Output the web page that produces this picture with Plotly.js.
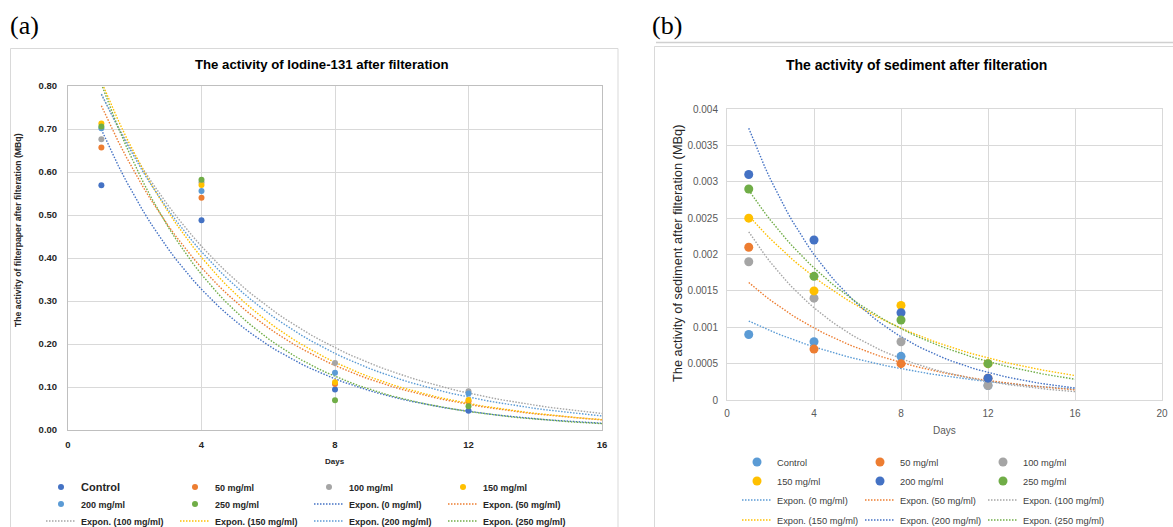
<!DOCTYPE html>
<html><head><meta charset="utf-8">
<script src="https://cdn.plot.ly/plotly-3.0.1.min.js"></script>
<style>html,body{margin:0;padding:0;background:#fff}#chart{width:1173px;height:527px}</style>
</head><body><div id="chart"></div>
<script>
// ---------- data ----------
const days = [1, 4, 8, 12];
const seriesNames = ['Control', '50 mg/ml', '100 mg/ml', '150 mg/ml', '200 mg/ml', '250 mg/ml'];
const trendNames = ['Expon. (0 mg/ml)', 'Expon. (50 mg/ml)', 'Expon. (100 mg/ml)', 'Expon. (150 mg/ml)', 'Expon. (200 mg/ml)', 'Expon. (250 mg/ml)'];
const trendDays = [1, 16];

// (a) filter paper activity (MBq)
const aControl = [0.569, 0.488, 0.094, 0.045];
const a50 = [0.657, 0.540, 0.107, 0.067];
const a100 = [0.676, 0.576, 0.156, 0.090];
const a150 = [0.713, 0.570, 0.111, 0.070];
const a200 = [0.702, 0.556, 0.133, 0.085];
const a250 = [0.706, 0.582, 0.069, 0.055];

// (b) sediment activity (MBq)
const bControl = [0.0009, 0.0008, 0.0006, 0.0002];
const b50 = [0.0021, 0.0007, 0.0005, 0.0003];
const b100 = [0.0019, 0.0014, 0.0008, 0.0002];
const b150 = [0.0025, 0.0015, 0.0013, 0.0005];
const b200 = [0.0031, 0.0022, 0.0012, 0.0003];
const b250 = [0.0029, 0.0017, 0.0011, 0.0005];

const aColors = ['#4472C4', '#ED7D31', '#A5A5A5', '#FFC000', '#5B9BD5', '#70AD47'];
const bColors = ['#5B9BD5', '#ED7D31', '#A5A5A5', '#FFC000', '#4472C4', '#70AD47'];

// ---------- helpers ----------
const W = 1173, H = 527;
const px = v => v / W;
const py = v => 1 - v / H;

// Excel-style exponential trendline: least squares on ln(y)
function expFit(xs, ys) {
  const n = xs.length;
  const ly = ys.map(Math.log);
  const mx = xs.reduce((s, v) => s + v, 0) / n;
  const my = ly.reduce((s, v) => s + v, 0) / n;
  let sxy = 0, sxx = 0;
  for (let i = 0; i < n; i++) { sxy += (xs[i] - mx) * (ly[i] - my); sxx += (xs[i] - mx) * (xs[i] - mx); }
  const b = sxy / sxx;
  return { a: my - b * mx, b: b };
}
function trendCurve(ys) {
  const f = expFit(days, ys);
  const xs = [];
  for (let x = trendDays[0]; x <= trendDays[1] + 1e-9; x += 0.25) xs.push(x);
  return { x: xs, y: xs.map(x => Math.exp(f.a + f.b * x)) };
}

const FONT = 'Liberation Sans, Arial, sans-serif';
const traces = [];

function addPanel(seriesData, colors, xa, ya, legendOf, msize, lw) {
  // trendlines first so markers sit on top
  seriesData.forEach((ys, i) => {
    const c = trendCurve(ys);
    const idx = 6 + i;
    traces.push({
      type: 'scatter', mode: 'lines', x: c.x, y: c.y, xaxis: xa, yaxis: ya,
      name: trendNames[i], line: { color: colors[i], width: lw, dash: '1.5px,1.5px' },
      legend: legendOf(idx), legendrank: idx, hoverinfo: 'skip'
    });
  });
  seriesData.forEach((ys, i) => {
    traces.push({
      type: 'scatter', mode: 'markers', x: days, y: ys, xaxis: xa, yaxis: ya,
      name: (xa === 'x' && i === 0) ? '<span style="font-size:11px">Control</span>' : seriesNames[i],
      marker: { color: colors[i], size: msize },
      legend: legendOf(i), legendrank: i
    });
  });
}

addPanel([aControl, a50, a100, a150, a200, a250], aColors, 'x', 'y',
  i => ['legend', 'legend2', 'legend3'][Math.floor(i / 4)], 6, 1.4);
addPanel([bControl, b50, b100, b150, b200, b250], bColors, 'x2', 'y2',
  i => ['legend4', 'legend5', 'legend6', 'legend7'][Math.floor(i / 3)], 9, 1.4);

const legA = (yc) => ({
  orientation: 'h', x: px(41), xanchor: 'left', y: py(yc), yanchor: 'middle',
  bgcolor: 'rgba(0,0,0,0)', borderwidth: 0, entrywidth: 89, entrywidthmode: 'pixels',
  font: { family: FONT, size: 9, color: '#262626', weight: 'bold' }, itemclick: false
});
const legB = (yc) => ({
  orientation: 'h', x: px(737), xanchor: 'left', y: py(yc), yanchor: 'middle',
  bgcolor: 'rgba(0,0,0,0)', borderwidth: 0, entrywidth: 78, entrywidthmode: 'pixels',
  font: { family: FONT, size: 9.3, color: '#404040' }, itemclick: false
});

const ann = (text, x, y, font, extra) => Object.assign({
  text: text, xref: 'paper', yref: 'paper', x: px(x), y: py(y), xanchor: 'center', yanchor: 'middle',
  showarrow: false, font: font
}, extra || {});

const layout = {
  width: W, height: H,
  margin: { l: 0, r: 0, t: 0, b: 0, autoexpand: false },
  paper_bgcolor: '#ffffff', plot_bgcolor: '#ffffff',
  showlegend: true,
  font: { family: FONT },
  xaxis: {
    domain: [px(68), px(602)], range: [0, 16], tick0: 0, dtick: 4, ticks: '',
    showgrid: true, gridcolor: '#D9D9D9', zeroline: false,
    showline: true, mirror: true, linecolor: '#BFBFBF', linewidth: 1,
    tickfont: { family: FONT, size: 9.5, color: '#262626', weight: 'bold' },
    ticklabelstandoff: 6, anchor: 'y', fixedrange: true, automargin: false
  },
  yaxis: {
    domain: [py(430), py(86)], range: [0, 0.8], tick0: 0, dtick: 0.1, tickformat: '.2f', ticks: '',
    showgrid: true, gridcolor: '#D9D9D9', zeroline: false,
    showline: true, mirror: true, linecolor: '#BFBFBF', linewidth: 1,
    tickfont: { family: FONT, size: 9.5, color: '#262626', weight: 'bold' },
    ticklabelstandoff: 8, anchor: 'x', fixedrange: true, automargin: false
  },
  xaxis2: {
    domain: [px(727), px(1162)], range: [0, 20], tick0: 0, dtick: 4, ticks: '',
    showgrid: true, gridcolor: '#D9D9D9', zeroline: false,
    showline: true, mirror: true, linecolor: '#D9D9D9', linewidth: 1,
    tickfont: { family: FONT, size: 10, color: '#595959' },
    ticklabelstandoff: 4, anchor: 'y2', fixedrange: true, automargin: false
  },
  yaxis2: {
    domain: [py(400), py(109)], range: [0, 0.004], tick0: 0, dtick: 0.0005, tickformat: '~g', ticks: '',
    showgrid: true, gridcolor: '#D9D9D9', zeroline: false,
    showline: true, mirror: true, linecolor: '#D9D9D9', linewidth: 1,
    tickfont: { family: FONT, size: 10, color: '#595959' },
    ticklabelstandoff: 6, anchor: 'x2', fixedrange: true, automargin: false
  },
  legend: legA(487), legend2: legA(504), legend3: legA(521),
  legend4: legB(462), legend5: legB(481), legend6: legB(500), legend7: legB(520),
  shapes: [
    { type: 'rect', xref: 'paper', yref: 'paper', x0: px(10.5), x1: px(618), y0: py(540), y1: py(48.5),
      line: { color: '#D9D9D9', width: 1 }, fillcolor: 'rgba(0,0,0,0)', layer: 'below' },
    { type: 'rect', xref: 'paper', yref: 'paper', x0: px(654.5), x1: px(1185), y0: py(540), y1: py(46.5),
      line: { color: '#D9D9D9', width: 1 }, fillcolor: 'rgba(0,0,0,0)', layer: 'below' },
    { type: 'line', xref: 'paper', yref: 'paper', x0: px(656), x1: px(1173), y0: py(42.5), y1: py(42.5),
      line: { color: '#D0D0D0', width: 1.5 } }
  ],
  annotations: [
    ann('(a)', 24, 25, { family: 'Liberation Serif, Times New Roman, serif', size: 26, color: '#000' }),
    ann('(b)', 667, 25, { family: 'Liberation Serif, Times New Roman, serif', size: 26, color: '#000' }),
    ann('The activity of Iodine-131 after filteration', 322, 64, { family: FONT, size: 13.2, color: '#000', weight: 'bold' }),
    ann('The activity of sediment after filteration', 916, 65, { family: FONT, size: 14, color: '#000', weight: 'bold' }),
    ann('The activity of filterpaper after filteration (MBq)', 18, 230, { family: FONT, size: 8.7, color: '#262626', weight: 'bold' }, { textangle: -90 }),
    ann('Days', 335, 461, { family: FONT, size: 8, color: '#262626', weight: 'bold' }),
    ann('The activity of sediment after filteration (MBq)', 678, 254, { family: FONT, size: 12.8, color: '#262626' }, { textangle: -90 }),
    ann('Days', 944, 430, { family: FONT, size: 10, color: '#595959' })
  ]
};

Plotly.newPlot('chart', traces, layout, { displayModeBar: false, staticPlot: true });
</script></body></html>
